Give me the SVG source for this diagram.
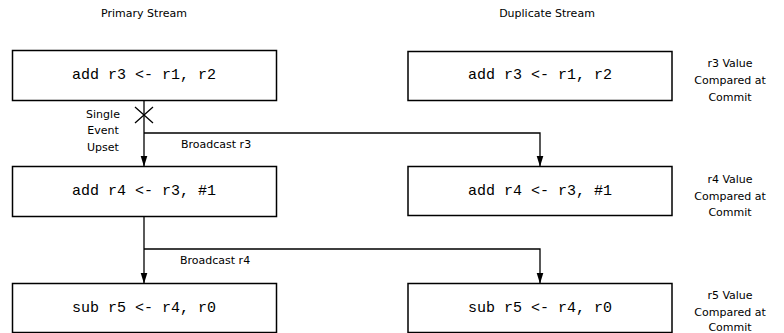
<svg xmlns="http://www.w3.org/2000/svg" width="784" height="333" viewBox="0 0 784 333">
  <defs>
    <marker id="arrow" markerWidth="11" markerHeight="8" refX="10.5" refY="3.5" orient="auto" markerUnits="userSpaceOnUse">
      <path d="M0,0 L11,3.5 L0,7 z" fill="#000"/>
    </marker>
    <style>
      .box { fill: #fff; stroke: #000; stroke-width: 1.5; }
      .code { font-family: "Liberation Mono", "Courier New", monospace; font-size: 15px; fill: #000; text-anchor: middle; }
      .lbl { font-family: "DejaVu Sans", "Liberation Sans", sans-serif; font-size: 11px; fill: #000; text-anchor: middle; }
      .lblL { font-family: "DejaVu Sans", "Liberation Sans", sans-serif; font-size: 11px; fill: #000; }
      .wire { fill: none; stroke: #000; stroke-width: 1.3; }
    </style>
  </defs>
  <rect width="784" height="333" fill="#fff"/>

  <!-- column headings -->
  <text class="lbl" x="144" y="17">Primary Stream</text>
  <text class="lbl" x="547" y="17">Duplicate Stream</text>

  <!-- connectors -->
  <g id="connectors">
    <path class="wire" d="M144,100 V166" marker-end="url(#arrow)"/>
    <path class="wire" d="M144,133 H540 V166" marker-end="url(#arrow)"/>
    <path class="wire" d="M144,216 V283" marker-end="url(#arrow)"/>
    <path class="wire" d="M144,249 H540 V283" marker-end="url(#arrow)"/>
    <!-- fault marker on the primary r3 path -->
    <path class="wire" d="M135,107 L153,123 M153,107 L135,123" stroke-width="1.5"/>
    <text class="lbl" x="103" y="118">Single</text>
    <text class="lbl" x="103" y="134">Event</text>
    <text class="lbl" x="103" y="151">Upset</text>
    <text class="lblL" x="181" y="148">Broadcast r3</text>
    <text class="lblL" x="180" y="264">Broadcast r4</text>
  </g>

  <!-- primary stream -->
  <g id="p1">
    <rect class="box" x="12.5" y="50.5" width="264" height="50"/>
    <text class="code" x="144" y="79">add r3 &lt;- r1, r2</text>
  </g>
  <g id="p2">
    <rect class="box" x="12.5" y="166.5" width="264" height="50"/>
    <text class="code" x="144" y="195">add r4 &lt;- r3, #1</text>
  </g>
  <g id="p3">
    <rect class="box" x="12.5" y="283.5" width="264" height="49"/>
    <text class="code" x="144" y="312">sub r5 &lt;- r4, r0</text>
  </g>

  <!-- duplicate stream -->
  <g id="d1">
    <rect class="box" x="408" y="51.5" width="264" height="49"/>
    <text class="code" x="540" y="79">add r3 &lt;- r1, r2</text>
  </g>
  <g id="d2">
    <rect class="box" x="408" y="166.5" width="264" height="49"/>
    <text class="code" x="540" y="195">add r4 &lt;- r3, #1</text>
  </g>
  <g id="d3">
    <rect class="box" x="408" y="283.5" width="264" height="49"/>
    <text class="code" x="540" y="312">sub r5 &lt;- r4, r0</text>
  </g>

  <!-- commit comparison notes -->
  <g id="c1">
    <text class="lbl" x="730" y="67">r3 Value</text>
    <text class="lbl" x="730" y="84">Compared at</text>
    <text class="lbl" x="730" y="101">Commit</text>
  </g>
  <g id="c2">
    <text class="lbl" x="730" y="183">r4 Value</text>
    <text class="lbl" x="730" y="200">Compared at</text>
    <text class="lbl" x="730" y="216">Commit</text>
  </g>
  <g id="c3">
    <text class="lbl" x="730" y="299">r5 Value</text>
    <text class="lbl" x="730" y="316">Compared at</text>
    <text class="lbl" x="730" y="331">Commit</text>
  </g>
</svg>
